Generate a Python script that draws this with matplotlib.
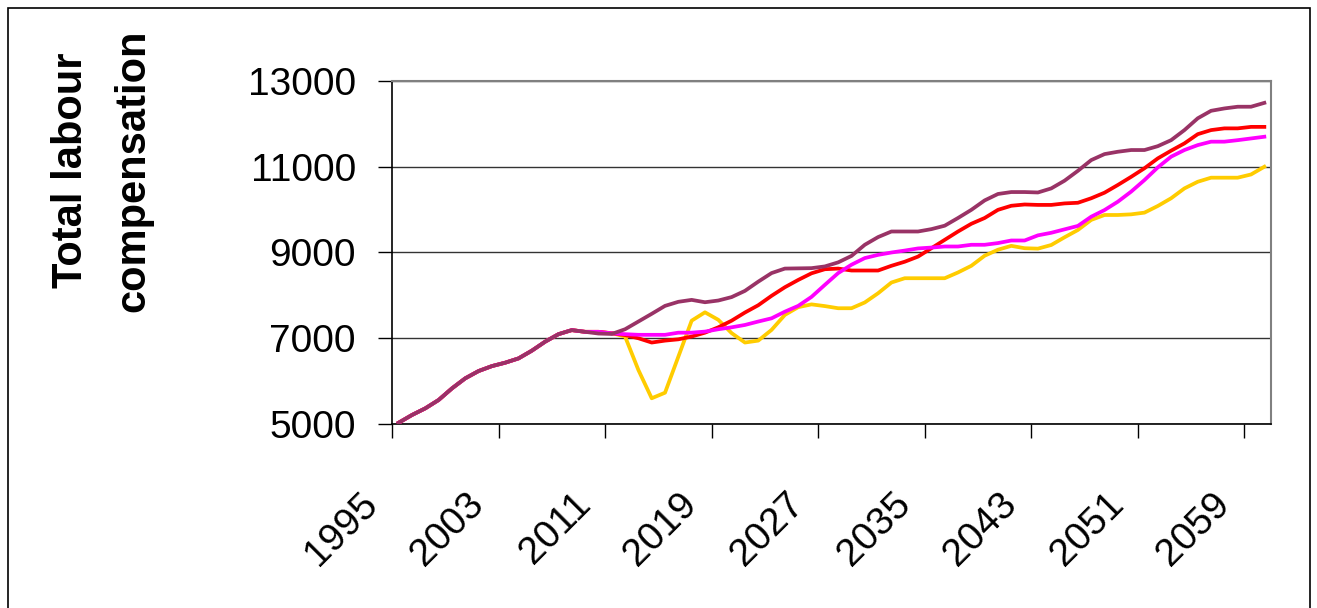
import matplotlib
matplotlib.use("Agg")
import matplotlib.pyplot as plt
import matplotlib.transforms as mtransforms
from matplotlib.patches import Rectangle

plt.rcParams["font.family"] = ["Liberation Sans", "DejaVu Sans"]

years = list(range(1995, 2061))

# shared history up to 2009
history = [5030, 5210, 5365, 5560, 5830, 6065, 6235, 6350, 6430, 6530,
           6710, 6920, 7095, 7190]

purple = history + [7150, 7110, 7100, 7210, 7390, 7570, 7755, 7850, 7895, 7840,
                    7880, 7960, 8105, 8320, 8520, 8625, 8630, 8635, 8675, 8770,
                    8920, 9180, 9360, 9490, 9490, 9490, 9545, 9625, 9805, 9995,
                    10215, 10365, 10410, 10410, 10400, 10495, 10675, 10905, 11155, 11295,
                    11350, 11390, 11390, 11480, 11620, 11855, 12130, 12305, 12360, 12400,
                    12400, 12490]

red = history + [7150, 7150, 7115, 7075, 7000, 6900, 6945, 6975, 7040, 7130,
                 7255, 7410, 7600, 7770, 7990, 8190, 8360, 8515, 8610, 8625,
                 8580, 8580, 8580, 8690, 8785, 8905, 9100, 9295, 9490, 9670,
                 9805, 9995, 10090, 10120, 10110, 10110, 10145, 10160, 10265, 10395,
                 10575, 10765, 10965, 11195, 11375, 11545, 11760, 11855, 11895, 11895,
                 11930, 11930]

magenta = history + [7150, 7150, 7115, 7095, 7080, 7080, 7080, 7130, 7130, 7155,
                     7210, 7255, 7310, 7390, 7465, 7620, 7755, 7965, 8245, 8520,
                     8715, 8870, 8945, 9000, 9045, 9095, 9115, 9140, 9140, 9180,
                     9180, 9220, 9280, 9280, 9400, 9460, 9540, 9620, 9835, 9990,
                     10185, 10420, 10690, 10985, 11235, 11390, 11505, 11585, 11585, 11620,
                     11660, 11700]

yellow = history + [7150, 7150, 7120, 7040, 6260, 5600, 5730, 6570, 7410, 7605,
                    7430, 7120, 6900, 6945, 7195, 7545, 7725, 7790, 7750, 7700,
                    7700, 7835, 8050, 8300, 8400, 8400, 8400, 8400, 8535, 8690,
                    8925, 9065, 9155, 9100, 9090, 9175, 9355, 9525, 9760, 9875,
                    9875, 9890, 9930, 10085, 10265, 10495, 10650, 10745, 10745, 10745,
                    10820, 11000]

label_years = years[::8]

fig = plt.figure(figsize=(13.17, 6.08), dpi=100)
ax = fig.add_axes([392/1317, 1 - 424/608, (1271-392)/1317, (424-81)/608])

x = list(range(len(years)))
lw = 2.7
ax.plot(x, yellow, color="#FFCC00", lw=lw, zorder=3)
ax.plot(x, red, color="#FF0000", lw=lw, zorder=4)
ax.plot(x, magenta, color="#FF00FF", lw=lw, zorder=5)
ax.plot(x, purple, color="#993366", lw=lw, zorder=6)

ax.set_xlim(-0.5, len(years) - 0.5)
ax.set_ylim(5000, 13000)
ax.set_yticks([5000, 7000, 9000, 11000, 13000])
ax.grid(axis="y", color="#333333", lw=1.0)
ax.set_axisbelow(True)

idx = [years.index(y) for y in label_years]
ax.set_xticks([i - 0.5 for i in idx])
ax.set_xticklabels([str(y) for y in label_years], rotation=45, ha="right",
                   va="center", rotation_mode="anchor")
ax.tick_params(axis="x", direction="out", length=10, width=1, pad=44,
               labelsize=28)
ax.tick_params(axis="y", direction="out", length=10, width=1, pad=16,
               labelsize=28)
shift = mtransforms.ScaledTranslation(-20/100, 0, fig.dpi_scale_trans)
for lab in ax.get_xticklabels():
    lab.set_transform(lab.get_transform() + shift)

for s in ["top", "right"]:
    ax.spines[s].set_color("#808080")
    ax.spines[s].set_linewidth(1.5)
for s in ["left", "bottom"]:
    ax.spines[s].set_color("black")
    ax.spines[s].set_linewidth(1.2)

ax.set_ylabel("Total labour\ncompensation", fontsize=30, fontweight="bold",
              linespacing=1.7, labelpad=0)
ax.yaxis.set_label_coords(-0.272, 0.5 + 82/343)

fig.patches.append(Rectangle((8/1317, -0.01), 1302/1317, 1 - 8/608 + 0.01,
                             transform=fig.transFigure, fill=False,
                             edgecolor="black", lw=1.2))

fig.savefig("out.png", dpi=100)
